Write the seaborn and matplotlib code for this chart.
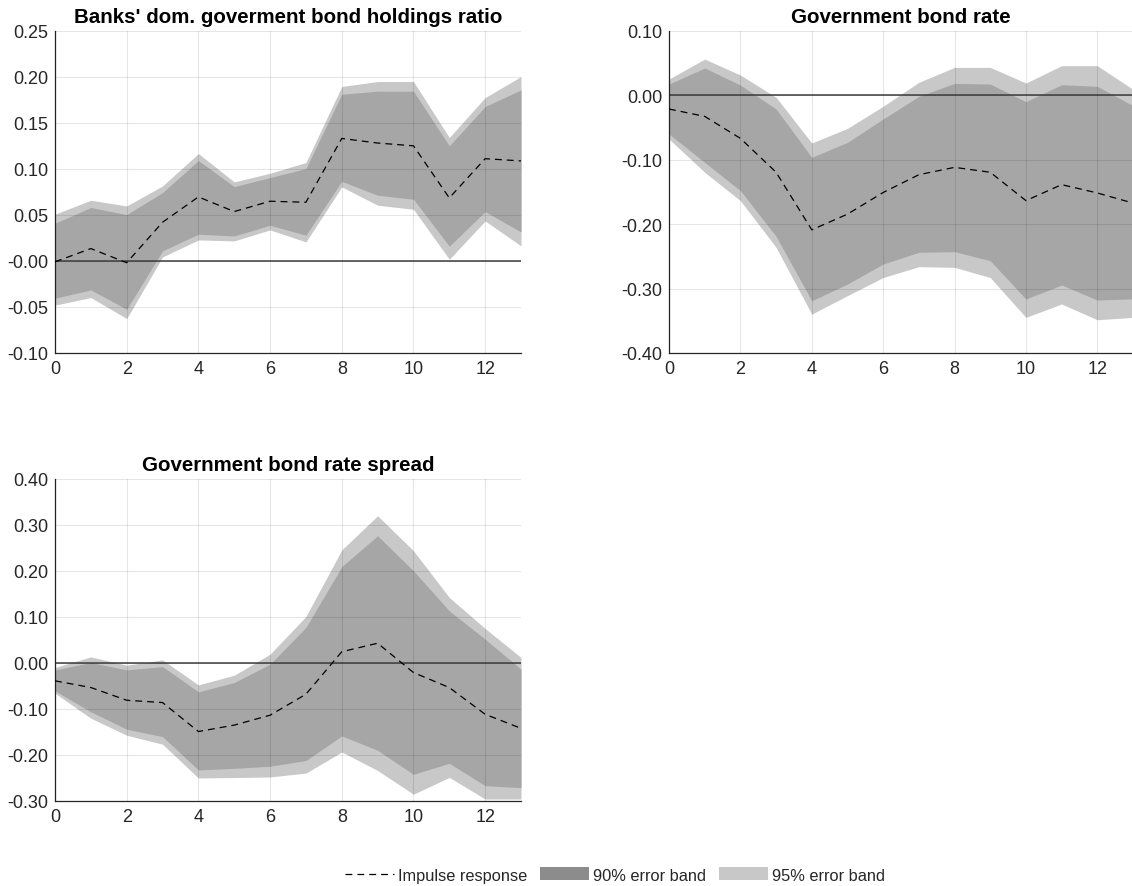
import numpy as np
import matplotlib
matplotlib.use("Agg")
import matplotlib.pyplot as plt
from matplotlib.lines import Line2D
from matplotlib.patches import Patch
from matplotlib.ticker import FixedLocator, FixedFormatter
import seaborn as sns

# Forecast horizon (periods after the shock)
horizon = list(range(14))

# Banks' domestic government bond holdings ratio
ratio_irf = [-0.001, 0.0134, -0.002, 0.042, 0.0695, 0.0536, 0.0648, 0.0637, 0.133, 0.128, 0.125, 0.0684, 0.111, 0.1086]
ratio_lo90 = [-0.0405, -0.0315, -0.0525, 0.0109, 0.029, 0.0271, 0.0387, 0.0279, 0.0865, 0.0713, 0.067, 0.016, 0.0536, 0.0315]
ratio_hi90 = [0.0409, 0.058, 0.0503, 0.0742, 0.109, 0.0807, 0.0905, 0.1003, 0.181, 0.1843, 0.1843, 0.125, 0.1677, 0.1857]
ratio_lo95 = [-0.048, -0.0398, -0.0626, 0.0043, 0.0228, 0.0217, 0.0337, 0.0206, 0.0804, 0.0605, 0.0561, 0.0018, 0.0434, 0.0163]
ratio_hi95 = [0.0507, 0.0659, 0.0597, 0.0814, 0.1166, 0.0858, 0.0952, 0.1068, 0.1894, 0.1948, 0.1948, 0.134, 0.1774, 0.2002]

# Government bond rate
rate_irf = [-0.0215, -0.0329, -0.067, -0.1196, -0.2089, -0.1846, -0.151, -0.1234, -0.112, -0.1196, -0.1636, -0.1388, -0.1517, -0.1674]
rate_lo90 = [-0.0602, -0.1043, -0.148, -0.219, -0.319, -0.293, -0.262, -0.2438, -0.2428, -0.2568, -0.3162, -0.2945, -0.3178, -0.316]
rate_hi90 = [0.0172, 0.0421, 0.0157, -0.0215, -0.0965, -0.0732, -0.037, -0.0019, 0.0183, 0.0172, -0.0101, 0.0163, 0.0137, -0.0163]
rate_lo95 = [-0.068, -0.1196, -0.1636, -0.236, -0.3397, -0.311, -0.2829, -0.2661, -0.2671, -0.2829, -0.3447, -0.324, -0.3484, -0.3447]
rate_hi95 = [0.025, 0.056, 0.0312, -0.0033, -0.0742, -0.0515, -0.0173, 0.0199, 0.0431, 0.0431, 0.0188, 0.0457, 0.0457, 0.009]

# Government bond rate spread
spread_irf = [-0.0388, -0.0533, -0.081, -0.086, -0.149, -0.135, -0.1135, -0.0679, 0.0245, 0.043, -0.0207, -0.0534, -0.1115, -0.142]
spread_lo90 = [-0.0606, -0.106, -0.144, -0.16, -0.2325, -0.229, -0.2245, -0.212, -0.1585, -0.1898, -0.242, -0.218, -0.2667, -0.271]
spread_hi90 = [-0.015, 0.001, -0.015, -0.0077, -0.0627, -0.0424, -0.0026, 0.0772, 0.2095, 0.2766, 0.2004, 0.1134, 0.0518, -0.0135]
spread_lo95 = [-0.0657, -0.12, -0.157, -0.1765, -0.25, -0.249, -0.2477, -0.2394, -0.1934, -0.2336, -0.2852, -0.2486, -0.2957, -0.2957]
spread_hi95 = [-0.0097, 0.0133, -0.0048, 0.0068, -0.0476, -0.0266, 0.0192, 0.1011, 0.2458, 0.3202, 0.244, 0.1425, 0.075, 0.012]

titles = [
    "Banks' dom. goverment bond holdings ratio",
    "Government bond rate",
    "Government bond rate spread",
]

ratio_yticks = [-0.10, -0.05, 0.0, 0.05, 0.10, 0.15, 0.20, 0.25]
ratio_ylabels = ["-0.10", "-0.05", "-0.00", "0.05", "0.10", "0.15", "0.20", "0.25"]
rate_yticks = [-0.40, -0.30, -0.20, -0.10, 0.0, 0.10]
rate_ylabels = ["-0.40", "-0.30", "-0.20", "-0.10", "0.00", "0.10"]
spread_yticks = [-0.30, -0.20, -0.10, 0.0, 0.10, 0.20, 0.30, 0.40]
spread_ylabels = ["-0.30", "-0.20", "-0.10", "0.00", "0.10", "0.20", "0.30", "0.40"]
xticks = [0, 2, 4, 6, 8, 10, 12]

legend_labels = ["Impulse response", "90% error band", "95% error band"]

C95 = "#c8c8c8"
C90_FILL = "#a6a6a6"
C90_LEGEND = "#8c8c8c"
TEXT = "#262626"

sns.set_theme(style="white")
plt.rcParams["font.family"] = ["Liberation Sans", "DejaVu Sans"]

fig = plt.figure(figsize=(11.32, 8.87), dpi=100)

W, H = 1132, 887
def axes_px(left, top, right, bottom):
    return fig.add_axes([left / W, 1 - bottom / H, (right - left) / W, (bottom - top) / H])

ax1 = axes_px(55, 31.7, 521, 354)
ax2 = axes_px(669, 31.7, 1133, 354)
ax3 = axes_px(55, 480, 521, 802)

panels = [
    (ax1, ratio_irf, ratio_lo90, ratio_hi90, ratio_lo95, ratio_hi95, ratio_yticks, ratio_ylabels, titles[0]),
    (ax2, rate_irf, rate_lo90, rate_hi90, rate_lo95, rate_hi95, rate_yticks, rate_ylabels, titles[1]),
    (ax3, spread_irf, spread_lo90, spread_hi90, spread_lo95, spread_hi95, spread_yticks, spread_ylabels, titles[2]),
]

for ax, irf, lo90, hi90, lo95, hi95, yt, yl, title in panels:
    ax.fill_between(horizon, lo95, hi95, color=C95, lw=0, zorder=1)
    ax.fill_between(horizon, lo90, hi90, color=C90_FILL, lw=0, zorder=1.1)
    ax.axhline(0, color="#404040", lw=1.1, zorder=2)
    sns.lineplot(x=horizon, y=irf, ax=ax, color="black", lw=0.9,
                 linestyle=(0, (5.5, 4)), zorder=3)

    ax.set_xlim(0, 13)
    ax.set_ylim(yt[0], yt[-1])
    ax.xaxis.set_major_locator(FixedLocator(xticks))
    ax.yaxis.set_major_locator(FixedLocator(yt))
    ax.yaxis.set_major_formatter(FixedFormatter(yl))

    ax.set_axisbelow(False)
    ax.grid(True, color="black", alpha=0.1, lw=0.8)
    for side in ["top", "right"]:
        ax.spines[side].set_visible(False)
    for side in ["left", "bottom"]:
        ax.spines[side].set_color(TEXT)
        ax.spines[side].set_linewidth(0.9)
    ax.tick_params(axis="both", direction="in", length=3.5, width=0.8,
                   color=TEXT, labelcolor=TEXT, labelsize=13)
    ax.tick_params(axis="x", pad=5)
    ax.tick_params(axis="y", pad=5)
    ax.set_title(title, fontsize=14.8, fontweight="bold", color="black", pad=6.5)

handles = [
    Line2D([0], [0], color="black", lw=0.9, linestyle=(0, (5.5, 4))),
    Patch(facecolor=C90_LEGEND, edgecolor="none"),
    Patch(facecolor=C95, edgecolor="none"),
]
fig.legend(handles, legend_labels, loc="center", ncol=3, frameon=False,
           bbox_to_anchor=(615 / W, 1 - 876 / H), fontsize=11.8,
           handlelength=3.0, handleheight=0.85, handletextpad=0.25,
           columnspacing=0.75, labelcolor=TEXT)

fig.savefig("out.png", dpi=100)
